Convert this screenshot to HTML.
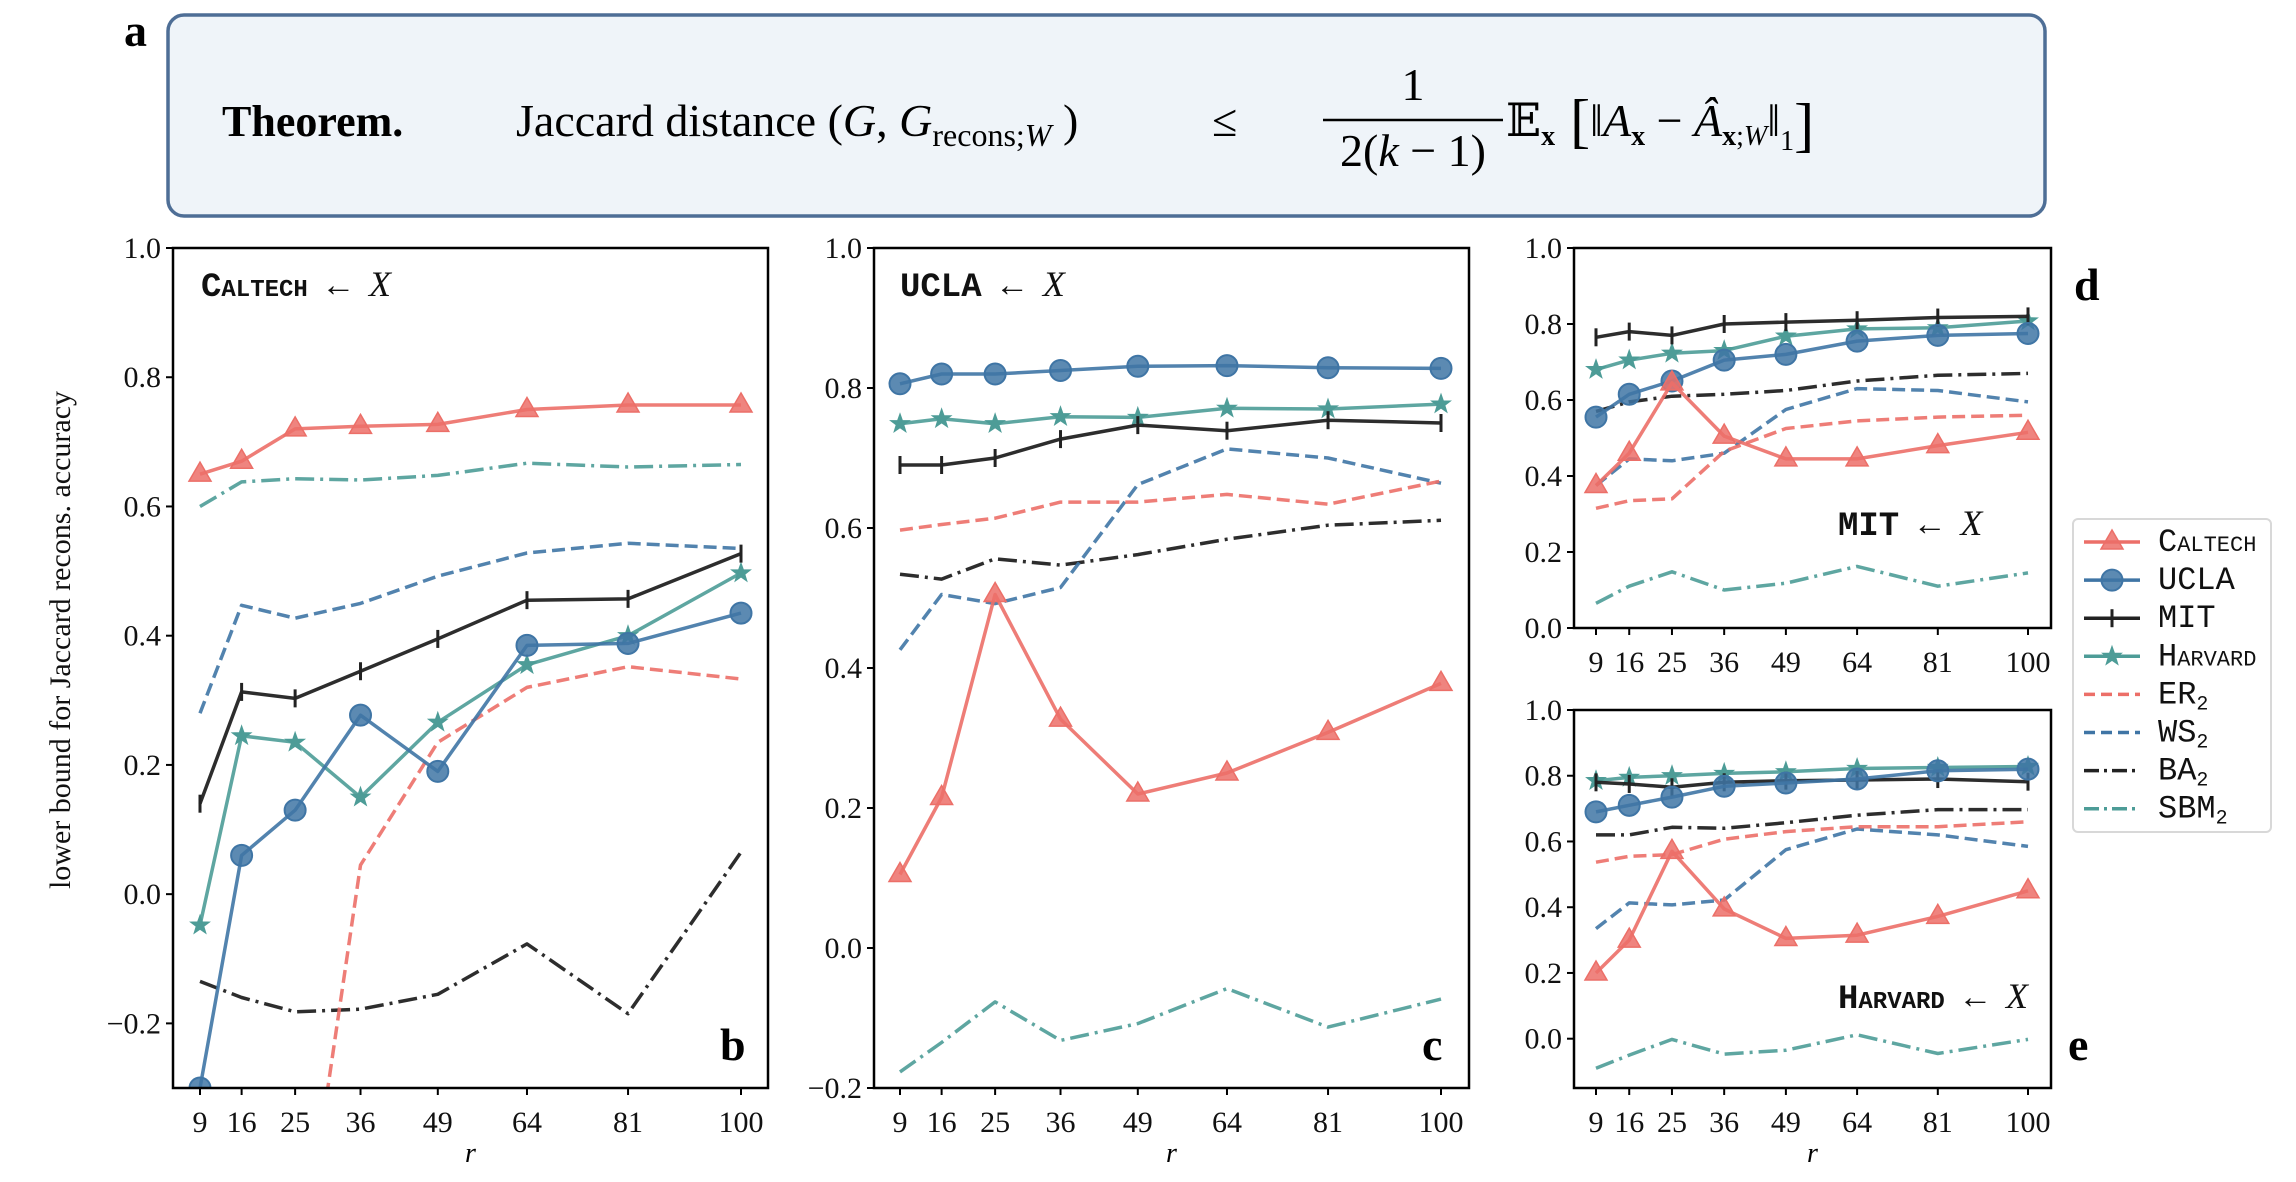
<!DOCTYPE html>
<html><head><meta charset="utf-8">
<style>
html,body{margin:0;padding:0;background:#fff;overflow:hidden;width:2296px;height:1182px;}
svg{display:block;}
text{font-family:"Liberation Serif","DejaVu Serif",serif;}
.tk{font-size:30px;fill:#111;}
.ttl{font-family:"Liberation Mono",monospace;font-size:34px;font-variant:small-caps;font-weight:bold;fill:#111;}
.lg{font-family:"Liberation Mono",monospace;font-size:32px;font-variant:small-caps;fill:#111;}
.pl{font-size:46px;font-weight:bold;fill:#000;}
</style></head>
<body>
<svg id="fig" width="2296" height="1182" viewBox="0 0 2296 1182" xmlns="http://www.w3.org/2000/svg">
<g>
<text class="pl" x="124" y="46">a</text>
<rect x="168" y="15" width="1877" height="201" rx="16" ry="16" fill="#eff4f9" stroke="#4e6e96" stroke-width="3.5"/>
<text x="222" y="136" font-size="44" font-weight="bold">Theorem.</text>
<text x="516" y="136" font-size="46">Jaccard distance (<tspan font-style="italic">G</tspan>, <tspan font-style="italic">G</tspan><tspan font-size="32" dy="10">recons;<tspan font-style="italic">W</tspan></tspan><tspan dy="-10"> )</tspan></text>
<text x="1212" y="136" font-size="46">≤</text>
<text x="1413" y="100" font-size="46" text-anchor="middle">1</text>
<line x1="1323" y1="120" x2="1503" y2="120" stroke="#000" stroke-width="2.5"/>
<text x="1413" y="166" font-size="46" text-anchor="middle">2(<tspan font-style="italic">k</tspan> − 1)</text>
<text x="1506" y="136" font-size="46">𝔼<tspan font-size="28" font-weight="bold" dy="9">x</tspan><tspan font-size="60" dy="-4"> [</tspan><tspan dy="-5">‖</tspan><tspan font-style="italic">A</tspan><tspan font-size="28" font-weight="bold" dy="9">x</tspan><tspan dy="-9"> − </tspan><tspan font-style="italic">Â</tspan><tspan font-size="28" dy="9"><tspan font-weight="bold">x</tspan>;<tspan font-style="italic">W</tspan></tspan><tspan dy="-9">‖</tspan><tspan font-size="28" dy="14">1</tspan><tspan font-size="60" dy="-5">]</tspan></text>
</g>
<text class="tk" transform="translate(70,640) rotate(-90)" text-anchor="middle" font-size="37">lower bound for Jaccard recons. accuracy</text>
<g id="charts"></g>
</svg>
<script>
const rVals=[9,16,25,36,49,64,81,100];
const xTickLabels=["9","16","25","36","49","64","81","100"];
const seriesNames=["Caltech","UCLA","MIT","Harvard","ER2","WS2","BA2","SBM2"];
// panel b: Caltech <- X
const bCaltech=[.65,.67,.72,.724,.727,.75,.757,.757];
const bUCLA=[-.3,.06,.13,.277,.19,.385,.388,.435];
const bMIT=[.14,.313,.303,.345,.395,.455,.457,.527];
const bHarvard=[-.048,.245,.235,.15,.266,.355,.40,.497];
const bER2=[-1.2,-.9,-.645,.045,.235,.32,.352,.333];
const bWS2=[.28,.447,.427,.45,.492,.528,.543,.535];
const bBA2=[-.135,-.16,-.182,-.178,-.155,-.077,-.185,.065];
const bSBM2=[.60,.638,.643,.641,.648,.667,.661,.665];
const bYTicks=[-0.2,0,0.2,0.4,0.6,0.8,1.0];
// panel c: UCLA <- X
const cCaltech=[.105,.215,.505,.327,.22,.25,.308,.378];
const cUCLA=[.806,.82,.82,.825,.831,.832,.829,.828];
const cMIT=[.69,.69,.70,.727,.747,.739,.754,.75];
const cHarvard=[.749,.756,.749,.759,.758,.771,.77,.777];
const cER2=[.597,.605,.614,.637,.637,.648,.634,.667];
const cWS2=[.426,.505,.492,.515,.662,.713,.7,.664];
const cBA2=[.534,.527,.556,.547,.562,.584,.604,.611];
const cSBM2=[-.177,-.135,-.077,-.132,-.108,-.058,-.113,-.073];
const cYTicks=[-0.2,0,0.2,0.4,0.6,0.8,1.0];
// panel d: MIT <- X
const dCaltech=[.375,.46,.645,.505,.445,.445,.48,.515];
const dUCLA=[.555,.615,.65,.705,.72,.755,.77,.775];
const dMIT=[.765,.78,.77,.80,.805,.81,.817,.82];
const dHarvard=[.68,.705,.723,.73,.768,.787,.79,.808];
const dER2=[.315,.335,.34,.465,.525,.545,.555,.56];
const dWS2=[.375,.445,.44,.46,.575,.63,.625,.595];
const dBA2=[.57,.595,.61,.615,.625,.65,.665,.67];
const dSBM2=[.065,.11,.148,.10,.118,.162,.11,.145];
const dYTicks=[0,0.2,0.4,0.6,0.8,1.0];
// panel e: Harvard <- X
const eCaltech=[.20,.30,.57,.395,.305,.315,.372,.45];
const eUCLA=[.69,.71,.735,.768,.778,.79,.815,.82];
const eMIT=[.78,.775,.765,.78,.785,.787,.79,.782];
const eHarvard=[.785,.795,.8,.807,.812,.822,.825,.828];
const eER2=[.537,.555,.56,.607,.63,.645,.645,.66];
const eWS2=[.335,.413,.407,.422,.575,.638,.62,.585];
const eBA2=[.62,.62,.643,.64,.657,.68,.697,.697];
const eSBM2=[-.09,-.05,-.002,-.047,-.035,.012,-.045,-.002];
const eYTicks=[0,0.2,0.4,0.6,0.8,1.0];

const NS="http://www.w3.org/2000/svg";
const RED="#ec6f68",BLUE="#3f75a5",BLK="#222222",TEAL="#4d9c97";
const styles=[
 {c:RED,m:"tri",d:null},{c:BLUE,m:"circ",d:null},{c:BLK,m:"plus",d:null},{c:TEAL,m:"star",d:null},
 {c:RED,m:null,d:"13,6"},{c:BLUE,m:null,d:"13,6"},{c:BLK,m:null,d:"19,6,3,6"},{c:TEAL,m:null,d:"19,6,3,6"}];
const root=document.getElementById('charts');
function mk(tag,attrs,parent){const e=document.createElementNS(NS,tag);for(const k in attrs)e.setAttribute(k,attrs[k]);(parent||root).appendChild(e);return e;}
function marker(g,m,x,y,c){
 let e;
 if(m==="tri"){e=mk('polygon',{points:`${x},${y-12} ${x-11},${y+7} ${x+11},${y+7}`,fill:c,'fill-opacity':0.85,stroke:c,'stroke-width':1.5},g);}
 else if(m==="circ"){e=mk('circle',{cx:x,cy:y,r:10.5,fill:c,'fill-opacity':0.85,stroke:c,'stroke-width':2},g);}
 else if(m==="plus"){e=mk('path',{d:`M${x},${y-9}V${y+9}`,stroke:c,'stroke-width':3},g);}
 else if(m==="star"){let p=[];for(let i=0;i<10;i++){const a=-Math.PI/2+i*Math.PI/5,rr=i%2?4:10;p.push((x+rr*Math.cos(a)).toFixed(1)+","+(y+rr*Math.sin(a)).toFixed(1));}
  e=mk('polygon',{points:p.join(' '),fill:c,stroke:c,'stroke-width':1},g);}
 
 
}
function panel(id,L,R,T,B,ymin,ymax,x9,x100,yTicks,series,title,tx,ty,lbl,lx,ly,showR){
 const g=mk('g',{});
 
 
 const xs=r=>x9+(r-9)*(x100-x9)/91;
 const ys=v=>B-(v-ymin)*(B-T)/(ymax-ymin);
 const cp=mk('clipPath',{id:'clip'+id},g);
 mk('rect',{x:L,y:T,width:R-L,height:B-T},cp);
 const plot=mk('g',{'clip-path':`url(#clip${id})`},g);
 
 
 const order=[7,6,5,4,3,2,1,0];
 order.forEach(si=>{
  const vals=series[si],st=styles[si];
  const pts=vals.map((v,i)=>xs(rVals[i]).toFixed(1)+","+ys(v).toFixed(1)).join(" ");
  const sg=mk('g',{},plot);
  
  
  const a={points:pts,fill:'none',stroke:st.c,'stroke-width':3.5,'stroke-opacity':st.c===BLK?0.95:0.9,'stroke-linejoin':'round'};
  if(st.d)a['stroke-dasharray']=st.d;
  const pl=mk('polyline',a,sg);
  
  
  if(st.m)vals.forEach((v,i)=>marker(sg,st.m,xs(rVals[i]),ys(v),st.c));
 });
 const fr=mk('rect',{x:L,y:T,width:R-L,height:B-T,fill:'none',stroke:'#000',"stroke-width":2.5},g);
 
 
 yTicks.forEach(v=>{const y=ys(v);
  mk('line',{x1:L-7,x2:L,y1:y,y2:y,stroke:'#000','stroke-width':2},g);
  const t=mk('text',{x:L-12,y:y+10,'text-anchor':'end',class:'tk'},g);
  t.textContent=(v<0?"−":"")+Math.abs(v).toFixed(1);
  
  });
 rVals.forEach((r,i)=>{const x=xs(r);
  mk('line',{x1:x,x2:x,y1:B,y2:B+7,stroke:'#000','stroke-width':2},g);
  const t=mk('text',{x:x,y:B+44,'text-anchor':'middle',class:'tk'},g);
  t.textContent=xTickLabels[i];
  
  });
 const tt=mk('text',{x:tx,y:ty,class:'ttl'},g);
 tt.innerHTML=title+' ← <tspan font-family="Liberation Serif" font-style="italic" font-weight="normal" font-size="36" font-variant="normal">X</tspan>';
 
 
 const pl=mk('text',{x:lx,y:ly,class:'pl'},g);
 pl.textContent=lbl;
 
 
 if(showR){const rt=mk('text',{x:(L+R)/2,y:1162,'text-anchor':'middle','font-style':'italic','font-size':28},g);
  rt.textContent='r';
  
  }
}
panel('b',173,768,248,1088,-0.3,1.0,200,741,bYTicks,[bCaltech,bUCLA,bMIT,bHarvard,bER2,bWS2,bBA2,bSBM2],'Caltech',201,296,'b',720,1060,true);
panel('c',874,1469,248,1088,-0.2,1.0,900,1441,cYTicks,[cCaltech,cUCLA,cMIT,cHarvard,cER2,cWS2,cBA2,cSBM2],'UCLA',900,296,'c',1422,1060,true);
panel('d',1574,2051,248,628,0,1.0,1596,2028,dYTicks,[dCaltech,dUCLA,dMIT,dHarvard,dER2,dWS2,dBA2,dSBM2],'MIT',1838,535,'d',2074,300,false);
panel('e',1574,2051,710,1088,-0.15,1.0,1596,2028,eYTicks,[eCaltech,eUCLA,eMIT,eHarvard,eER2,eWS2,eBA2,eSBM2],'Harvard',1838,1008,'e',2068,1060,true);

const lg=mk('g',{});


const lb=mk('rect',{x:2073,y:519,width:198,height:313,rx:5,fill:'#fff',stroke:'#d8d8d8','stroke-width':2},lg);


const legendLabels=['Caltech','UCLA','MIT','Harvard','ER<tspan font-size="20" dy="6">2</tspan>','WS<tspan font-size="20" dy="6">2</tspan>','BA<tspan font-size="20" dy="6">2</tspan>','SBM<tspan font-size="20" dy="6">2</tspan>'];
legendLabels.forEach((lab,i)=>{
 const y=542+i*38.1,st=styles[i];
 const eg=mk('g',{},lg);
 
 
 const a={x1:2084,x2:2140,y1:y,y2:y,stroke:st.c,'stroke-width':3.5};
 if(st.d)a['stroke-dasharray']=st.d==="13,6"?"11,6":"15,5,3,5";
 mk('line',a,eg);
 if(st.m)marker(eg,st.m,2112,y,st.c);
 const t=mk('text',{x:2158,y:y+9,class:'lg'},eg);
 t.innerHTML=lab;
});
</script>
</body></html>
